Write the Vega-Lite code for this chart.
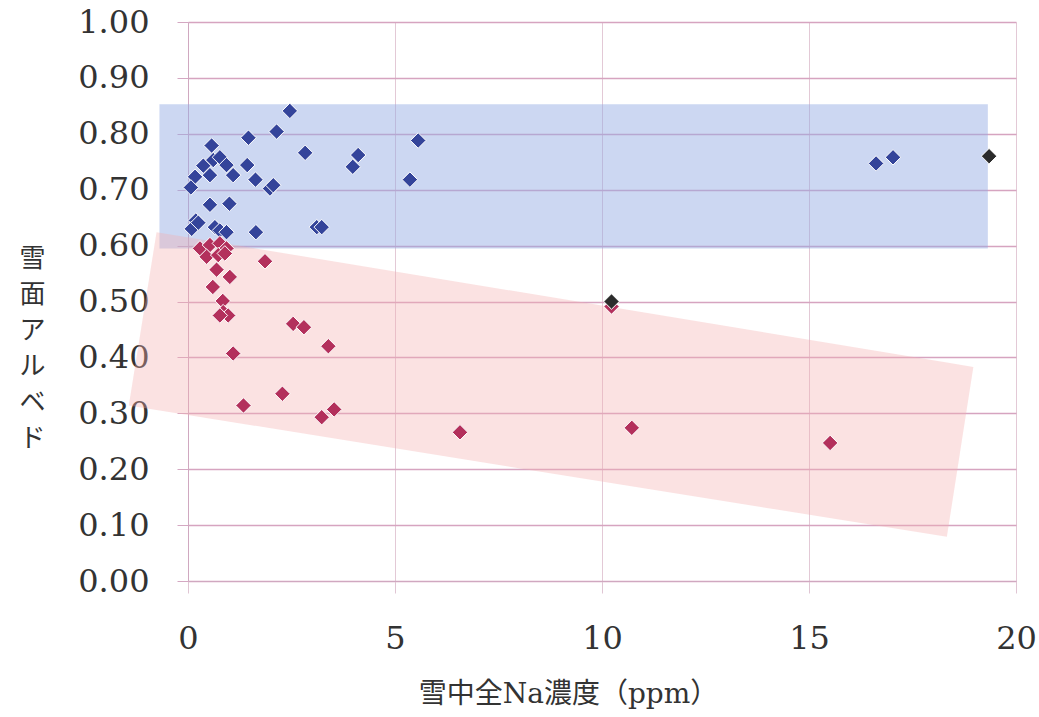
{
  "$schema": "https://vega.github.io/schema/vega-lite/v6.json",
  "width": 828,
  "height": 559,
  "autosize": {"type": "none"},
  "padding": {"left": 188, "top": 22, "right": 23, "bottom": 136},
  "background": "white",
  "config": {"view": {"stroke": null}},
  "datasets": {
    "blueband": [{"x": -0.69, "x2": 19.32, "y": 0.853, "y2": 0.595}],
    "pinkband": [
      {"x": -1.43, "y": 0.314, "y2": 0.314},
      {"x": -0.76, "y": 0.624, "y2": 0.306},
      {"x": 18.33, "y": 0.391, "y2": 0.079},
      {"x": 18.97, "y": 0.383, "y2": 0.383}
    ],
    "points": [
      {"x": 2.46, "y": 0.841, "g": "blue"},
      {"x": 2.14, "y": 0.804, "g": "blue"},
      {"x": 1.46, "y": 0.793, "g": "blue"},
      {"x": 0.57, "y": 0.779, "g": "blue"},
      {"x": 5.56, "y": 0.788, "g": "blue"},
      {"x": 2.83, "y": 0.766, "g": "blue"},
      {"x": 4.11, "y": 0.762, "g": "blue"},
      {"x": 3.98, "y": 0.741, "g": "blue"},
      {"x": 1.43, "y": 0.744, "g": "blue"},
      {"x": 1.63, "y": 0.718, "g": "blue"},
      {"x": 1.98, "y": 0.702, "g": "blue"},
      {"x": 2.06, "y": 0.708, "g": "blue"},
      {"x": 5.36, "y": 0.718, "g": "blue"},
      {"x": 1.09, "y": 0.726, "g": "blue"},
      {"x": 0.37, "y": 0.743, "g": "blue"},
      {"x": 0.61, "y": 0.753, "g": "blue"},
      {"x": 0.77, "y": 0.758, "g": "blue"},
      {"x": 0.93, "y": 0.744, "g": "blue"},
      {"x": 0.53, "y": 0.726, "g": "blue"},
      {"x": 0.17, "y": 0.723, "g": "blue"},
      {"x": 0.07, "y": 0.704, "g": "blue"},
      {"x": 0.53, "y": 0.673, "g": "blue"},
      {"x": 1.0, "y": 0.675, "g": "blue"},
      {"x": 0.19, "y": 0.645, "g": "blue"},
      {"x": 0.09, "y": 0.63, "g": "blue"},
      {"x": 0.25, "y": 0.641, "g": "blue"},
      {"x": 0.65, "y": 0.633, "g": "blue"},
      {"x": 0.77, "y": 0.627, "g": "blue"},
      {"x": 0.93, "y": 0.624, "g": "blue"},
      {"x": 1.64, "y": 0.624, "g": "blue"},
      {"x": 3.11, "y": 0.633, "g": "blue"},
      {"x": 3.23, "y": 0.633, "g": "blue"},
      {"x": 16.62, "y": 0.747, "g": "blue"},
      {"x": 17.03, "y": 0.758, "g": "blue"},
      {"x": 0.29, "y": 0.595, "g": "red"},
      {"x": 0.53, "y": 0.601, "g": "red"},
      {"x": 0.77, "y": 0.604, "g": "red"},
      {"x": 0.93, "y": 0.595, "g": "red"},
      {"x": 0.45, "y": 0.58, "g": "red"},
      {"x": 0.73, "y": 0.583, "g": "red"},
      {"x": 0.89, "y": 0.586, "g": "red"},
      {"x": 1.86, "y": 0.572, "g": "red"},
      {"x": 0.69, "y": 0.557, "g": "red"},
      {"x": 1.01, "y": 0.544, "g": "red"},
      {"x": 0.6, "y": 0.526, "g": "red"},
      {"x": 0.84, "y": 0.501, "g": "red"},
      {"x": 0.85, "y": 0.481, "g": "red"},
      {"x": 0.97, "y": 0.475, "g": "red"},
      {"x": 0.77, "y": 0.475, "g": "red"},
      {"x": 1.09, "y": 0.407, "g": "red"},
      {"x": 3.39, "y": 0.42, "g": "red"},
      {"x": 2.54, "y": 0.46, "g": "red"},
      {"x": 2.8, "y": 0.454, "g": "red"},
      {"x": 2.28, "y": 0.335, "g": "red"},
      {"x": 1.34, "y": 0.314, "g": "red"},
      {"x": 3.23, "y": 0.293, "g": "red"},
      {"x": 3.53, "y": 0.307, "g": "red"},
      {"x": 10.23, "y": 0.491, "g": "red"},
      {"x": 10.72, "y": 0.274, "g": "red"},
      {"x": 15.51, "y": 0.247, "g": "red"},
      {"x": 6.57, "y": 0.266, "g": "red"},
      {"x": 10.23, "y": 0.5, "g": "black"},
      {"x": 19.35, "y": 0.76, "g": "black"}
    ]
  },
  "encoding": {
    "x": {
      "field": "x",
      "type": "quantitative",
      "scale": {"domain": [0, 20], "nice": false, "zero": false},
      "axis": {
        "values": [0, 5, 10, 15, 20],
        "labelFlush": false,
        "title": "雪中全Na濃度（ppm）",
        "titleFont": "DejaVu Serif, Noto Sans CJK JP",
        "titleFontSize": 28,
        "titleFontWeight": "normal",
        "titleColor": "#333333",
        "titleX": 380,
        "titleY": 113,
        "titleAlign": "center",
        "titleBaseline": "middle",
        "labelFont": "DejaVu Serif",
        "labelFontSize": 32,
        "labelColor": "#333333",
        "labelPadding": 30,
        "tickSize": 12,
        "tickColor": "#e0c6d4",
        "domainColor": "#d0a8c0",
        "gridColor": "#e3c9d6",
        "gridWidth": 1
      }
    },
    "y": {
      "field": "y",
      "type": "quantitative",
      "scale": {"domain": [0, 1], "nice": false},
      "axis": {
        "values": [0, 0.1, 0.2, 0.3, 0.4, 0.5, 0.6, 0.7, 0.8, 0.9, 1.0],
        "labelFlush": false,
        "format": ".2f",
        "title": ["雪", "面", "ア", "ル", "ベ", "ド"],
        "titleFont": "Noto Sans CJK JP",
        "titleFontSize": 26,
        "titleFontWeight": "normal",
        "titleColor": "#333333",
        "titleAngle": 0,
        "titleAlign": "center",
        "titleBaseline": "middle",
        "titleLineHeight": 36,
        "titleX": -156,
        "titleY": 236,
        "labelFont": "DejaVu Serif",
        "labelFontSize": 32,
        "labelColor": "#333333",
        "labelPadding": 28,
        "tickSize": 11,
        "tickColor": "#d4a8c2",
        "domainColor": "#d0a8c0",
        "gridColor": "#d6a4c0",
        "gridWidth": 1.5
      }
    }
  },
  "layer": [
    {
      "data": {"name": "blueband"},
      "mark": {"type": "rect", "fill": "#93a9e3", "opacity": 0.47},
      "encoding": {"x2": {"field": "x2"}, "y2": {"field": "y2"}}
    },
    {
      "data": {"name": "pinkband"},
      "mark": {"type": "area", "fill": "#f4b0b0", "opacity": 0.36, "interpolate": "linear"},
      "encoding": {"y2": {"field": "y2"}}
    },
    {
      "data": {"name": "points"},
      "mark": {"type": "point", "shape": "diamond", "filled": true, "size": 240, "stroke": "white", "strokeWidth": 1, "opacity": 1},
      "encoding": {
        "color": {
          "field": "g",
          "type": "nominal",
          "scale": {"domain": ["blue", "red", "black"], "range": ["#34449a", "#b3305c", "#2b2b2b"]},
          "legend": null
        }
      }
    }
  ]
}
